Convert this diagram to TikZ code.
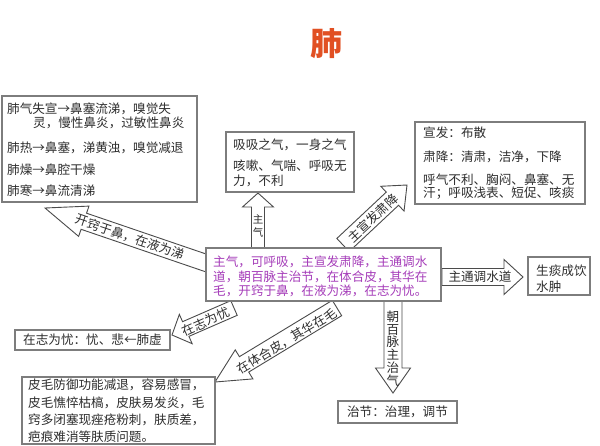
\documentclass[tikz,border=0pt]{standalone}
\usepackage{fontspec}
\setmainfont{Noto Sans CJK SC}
\usetikzlibrary{calc}
\definecolor{boxline}{RGB}{125,125,125}
\definecolor{arrline}{RGB}{75,75,75}
\definecolor{txt}{RGB}{45,45,45}
\definecolor{mag}{RGB}{165,60,185}
\definecolor{titlered}{RGB}{225,80,35}
\newcommand{\blockarr}[5]{%
  \coordinate (hb) at ($(#2)!#5!(#1)$);
  \draw[arrbox] ($(#1)!#3!90:(#2)$) -- ($(hb)!#3!90:(#2)$) -- ($(hb)!#4!90:(#2)$) -- (#2)
    -- ($(hb)!#4!-90:(#2)$) -- ($(hb)!#3!-90:(#2)$) -- ($(#1)!#3!-90:(#2)$) -- cycle;
}
\begin{document}
\begin{tikzpicture}[x=1pt,y=-1pt,
  boxn/.style={draw=boxline, line width=1.1pt, fill=white, inner sep=0pt},
  arrbox/.style={draw=arrline, line width=0.9pt, fill=white, line join=miter},
  ln/.style={font=\fontsize{12.6}{14}\selectfont, text=txt, inner sep=0pt, anchor=west},
  mln/.style={ln, text=mag},
  atx/.style={font=\fontsize{12.6}{14}\selectfont, text=txt, inner sep=0pt}]
\useasboundingbox (0,0) rectangle (600,445);
\fill[white] (0,0) rectangle (600,445);

% title
\node[font=\fontsize{32}{32}\selectfont\bfseries, text=titlered, inner sep=0pt] (title) at (326,44) {肺};

% arrow end points
\coordinate (a1t) at (212,265); \coordinate (a1h) at (45,208);
\coordinate (a2t) at (258,250); \coordinate (a2h) at (258,193);
\coordinate (a3t) at (343,245); \coordinate (a3h) at (407,185);
\coordinate (a4t) at (442,277); \coordinate (a4h) at (523,277);
\coordinate (a5t) at (393,300); \coordinate (a5h) at (393,393);
\coordinate (a6t) at (337,308); \coordinate (a6h) at (215,382);
\coordinate (a7t) at (234,308); \coordinate (a7h) at (172,335);

\blockarr{a1t}{a1h}{8.5pt}{16pt}{41pt}
\blockarr{a2t}{a2h}{6.5pt}{15.5pt}{14pt}
\blockarr{a3t}{a3h}{9pt}{17pt}{20pt}
\blockarr{a4t}{a4h}{8.5pt}{17.5pt}{19pt}
\blockarr{a5t}{a5h}{9pt}{17.5pt}{25pt}
\blockarr{a6t}{a6h}{9pt}{17pt}{34pt}
\blockarr{a7t}{a7h}{8pt}{16pt}{15pt}

% arrow labels
\node[atx, rotate=-19] (a1l) at (130,237) {开窍于鼻，在液为涕};
\node[font=\fontsize{10.5}{13.5}\selectfont, text=txt, inner sep=0pt, align=center] (a2l) at (258,226) {主\\气};
\node[atx, rotate=43] (a3l) at (373,218) {主宣发肃降};
\node[atx] (a4l) at (480,277) {主通调水道};
\node[font=\fontsize{12.6}{12.7}\selectfont, text=txt, inner sep=0pt, align=center] (a5l) at (393,348.5) {朝\\百\\脉\\主\\治\\气};
\node[atx, rotate=31] (a6l) at (287,341) {在体合皮，其华在毛};
\node[atx, rotate=24] (a7l) at (206,321.5) {在志为忧};

% boxes
\node[boxn, minimum width=195pt, minimum height=106pt] (b1) at (99.5,149) {};
\node[boxn, minimum width=128pt, minimum height=60pt] (b2) at (290,162) {};
\node[boxn, minimum width=170pt, minimum height=82pt] (b3) at (500,163) {};
\node[boxn, minimum width=235pt, minimum height=53pt] (main) at (323.5,274.5) {};
\node[boxn, minimum width=62pt, minimum height=38pt] (b5) at (559,276) {};
\node[boxn, minimum width=119pt, minimum height=22pt] (b6) at (397.5,412) {};
\node[boxn, minimum width=155pt, minimum height=20pt] (b7) at (92.5,340) {};
\node[boxn, minimum width=193pt, minimum height=67pt] (b8) at (118.5,410.5) {};

% box 1 text
\node[ln] (b1a) at (7,109) {肺气失宣→鼻塞流涕，嗅觉失};
\node[ln] (b1b) at (33,123) {灵，慢性鼻炎，过敏性鼻炎};
\node[ln] (b1c) at (7,148) {肺热→鼻塞，涕黄浊，嗅觉减退};
\node[ln] (b1d) at (7,170) {肺燥→鼻腔干燥};
\node[ln] (b1e) at (7,191) {肺寒→鼻流清涕};

% box 2 text
\node[ln] (b2a) at (233,145) {吸吸之气，一身之气};
\node[ln] (b2b) at (233,166) {咳嗽、气喘、呼吸无};
\node[ln] (b2c) at (233,181) {力，不利};

% box 3 text
\node[ln] (b3a) at (423,133) {宣发：布散};
\node[ln] (b3b) at (423,157) {肃降：清肃，洁净，下降};
\node[ln] (b3c) at (423,180) {呼气不利、胸闷、鼻塞、无};
\node[ln] (b3d) at (423,193) {汗；呼吸浅表、短促、咳痰};

% main text
\node[mln] (m1) at (213,262) {主气，可呼吸，主宣发肃降，主通调水};
\node[mln] (m2) at (213,277) {道，朝百脉主治节，在体合皮，其华在};
\node[mln] (m3) at (213,291) {毛，开窍于鼻，在液为涕，在志为忧。};

% box 5
\node[ln] (b5a) at (536,271) {生痰成饮};
\node[ln] (b5b) at (536,287) {水肿};

% box 6
\node[atx] (b6a) at (397.5,412) {治节：治理，调节};

% box 7
\node[atx] (b7a) at (92.5,340) {在志为忧：忧、悲←肺虚};

% box 8
\node[ln] (b8a) at (28,385) {皮毛防御功能减退，容易感冒，};
\node[ln] (b8b) at (28,402.5) {皮毛憔悴枯槁，皮肤易发炎，毛};
\node[ln] (b8c) at (28,420) {窍多闭塞现痤疮粉刺，肤质差，};
\node[ln] (b8d) at (28,437) {疤痕难消等肤质问题。};
\end{tikzpicture}
\end{document}
